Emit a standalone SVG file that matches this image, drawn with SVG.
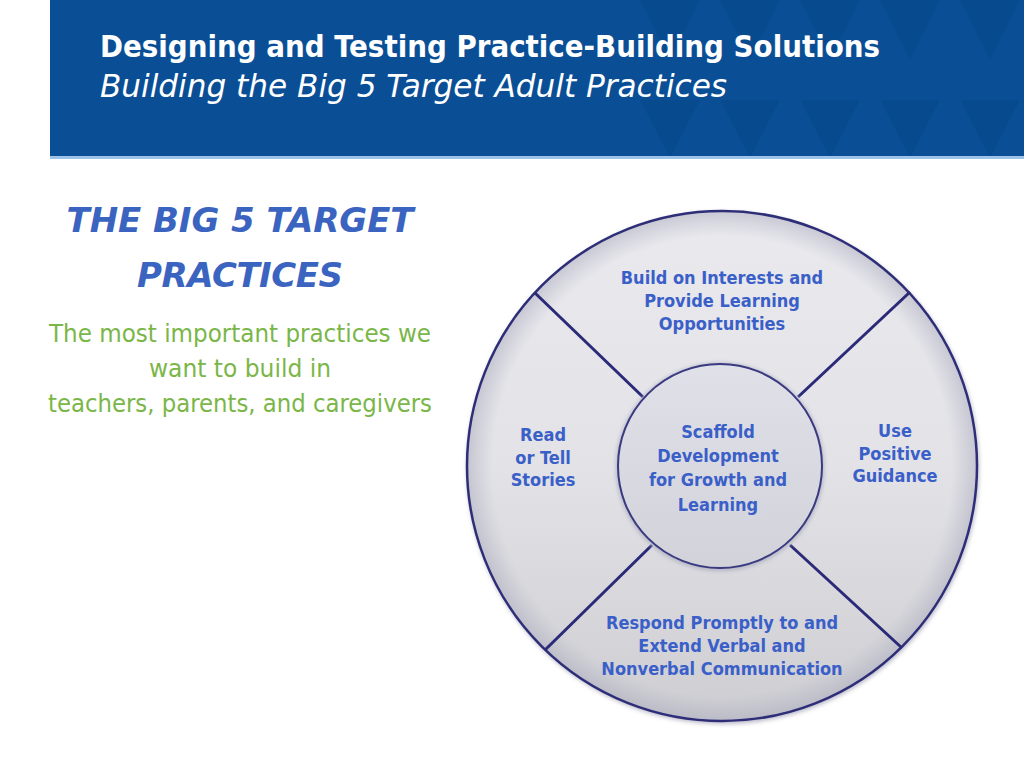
<svg xmlns="http://www.w3.org/2000/svg" width="1024" height="768" viewBox="0 0 1024 768">
<style>
.lbl{font-family:"DejaVu Sans Condensed","DejaVu Sans",sans-serif;font-weight:bold;font-size:18px;fill:#3a5fc8;text-anchor:middle}
.div{stroke:#2a2a78;stroke-width:3;fill:none}
.green{font-family:"DejaVu Sans Condensed","DejaVu Sans",sans-serif;font-size:24px;fill:#7ab648;text-anchor:middle}
</style>
<defs>
<linearGradient id="og" x1="0" y1="0" x2="0" y2="1">
<stop offset="0" stop-color="#e9e9ee"/>
<stop offset="0.5" stop-color="#e2e2e7"/>
<stop offset="1" stop-color="#cdcdd2"/>
</linearGradient>
<radialGradient id="rim" cx="0.5" cy="0.5" r="0.5">
<stop offset="0.9" stop-color="#b0b0c0" stop-opacity="0"/>
<stop offset="1" stop-color="#a8a8bc" stop-opacity="0.5"/>
</radialGradient>
<linearGradient id="ig" x1="0" y1="0" x2="0" y2="1">
<stop offset="0" stop-color="#e0e1e8"/>
<stop offset="1" stop-color="#d2d3da"/>
</linearGradient>
<filter id="sh" x="-10%" y="-10%" width="120%" height="120%">
<feGaussianBlur stdDeviation="2"/>
</filter>
</defs>
<rect width="1024" height="768" fill="#ffffff"/>
<g id="header">
<rect x="50" y="0" width="974" height="158" fill="#0a4f96"/>
<g fill="#08478a" opacity="0.6">
<polygon points="640,0 700,0 670,60"/>
<polygon points="720,0 780,0 750,60"/>
<polygon points="800,0 860,0 830,60"/>
<polygon points="880,0 940,0 910,60"/>
<polygon points="960,0 1020,0 990,60"/>
<polygon points="640,100 700,100 670,158"/>
<polygon points="720,100 780,100 750,158"/>
<polygon points="800,100 860,100 830,158"/>
<polygon points="880,100 940,100 910,158"/>
<polygon points="960,100 1020,100 990,158"/>
</g>
<rect x="50" y="156" width="974" height="3" fill="#9cc3ea"/>
<text x="100" y="57" font-family="'DejaVu Sans Condensed','DejaVu Sans',sans-serif" font-weight="bold" font-size="31" fill="#ffffff" textLength="780" lengthAdjust="spacingAndGlyphs">Designing and Testing Practice-Building Solutions</text>
<text x="100" y="97" font-family="'DejaVu Sans Condensed','DejaVu Sans',sans-serif" font-style="italic" font-size="32" fill="#ffffff" textLength="627" lengthAdjust="spacingAndGlyphs">Building the Big 5 Target Adult Practices</text>
</g>
<g id="intro">
<text x="240" y="232" font-family="'DejaVu Sans','Liberation Sans',sans-serif" font-weight="bold" font-style="italic" font-size="34" fill="#3a64c0" text-anchor="middle" textLength="347">THE BIG 5 TARGET</text>
<text x="240" y="287" font-family="'DejaVu Sans','Liberation Sans',sans-serif" font-weight="bold" font-style="italic" font-size="34" fill="#3a64c0" text-anchor="middle" textLength="206">PRACTICES</text>
<text x="240" y="342" class="green" textLength="382" lengthAdjust="spacingAndGlyphs">The most important practices we</text>
<text x="240" y="377" class="green" textLength="182" lengthAdjust="spacingAndGlyphs">want to build in</text>
<text x="240" y="412" class="green" textLength="384" lengthAdjust="spacingAndGlyphs">teachers, parents, and caregivers</text>
</g>
<g id="outer-circle">
<circle cx="723" cy="468" r="256" fill="#b8b8c8" filter="url(#sh)"/>
<circle cx="722" cy="466" r="255" fill="url(#og)"/>
<circle cx="722" cy="466" r="255" fill="url(#rim)" stroke="#2e2e78" stroke-width="2.5"/>
</g>
<g id="connectors">
<line class="div" x1="535" y1="293" x2="643" y2="397"/>
<line class="div" x1="910" y1="292" x2="798" y2="397"/>
<line class="div" x1="545" y1="650" x2="652" y2="545"/>
<line class="div" x1="790" y1="545" x2="902" y2="648"/>
</g>
<g id="center">
<circle cx="720" cy="467" r="104" fill="#b4b4c4" filter="url(#sh)"/>
<circle cx="720" cy="466" r="102" fill="url(#ig)" stroke="#3a3a80" stroke-width="2"/>
<text class="lbl" x="718" y="438">Scaffold</text>
<text class="lbl" x="718" y="462">Development</text>
<text class="lbl" x="718" y="486">for Growth and</text>
<text class="lbl" x="718" y="511">Learning</text>
</g>
<g id="top">
<text class="lbl" x="722" y="284">Build on Interests and</text>
<text class="lbl" x="722" y="307">Provide Learning</text>
<text class="lbl" x="722" y="330">Opportunities</text>
</g>
<g id="left">
<text class="lbl" x="543" y="441">Read</text>
<text class="lbl" x="543" y="464">or Tell</text>
<text class="lbl" x="543" y="486">Stories</text>
</g>
<g id="right">
<text class="lbl" x="895" y="437">Use</text>
<text class="lbl" x="895" y="460">Positive</text>
<text class="lbl" x="895" y="482">Guidance</text>
</g>
<g id="bottom">
<text class="lbl" x="722" y="629">Respond Promptly to and</text>
<text class="lbl" x="722" y="652">Extend Verbal and</text>
<text class="lbl" x="722" y="675">Nonverbal Communication</text>
</g>
</svg>
